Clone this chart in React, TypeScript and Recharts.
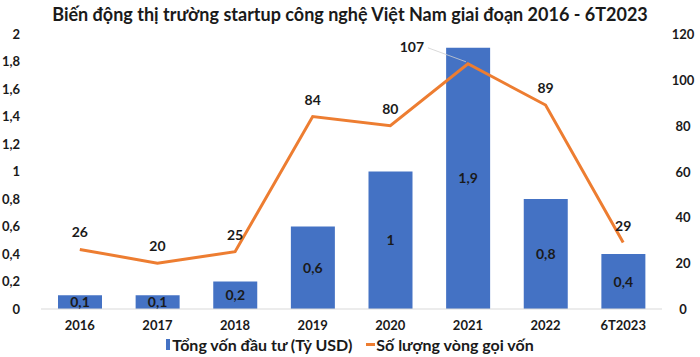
import React from 'react';
import {
  ComposedChart,
  Bar,
  Line,
  XAxis,
  YAxis,
  LabelList,
  Legend,
} from 'recharts';

const categories = ['2016', '2017', '2018', '2019', '2020', '2021', '2022', '6T2023'];
const investment = [0.1, 0.1, 0.2, 0.6, 1, 1.9, 0.8, 0.4];
const rounds = [26, 20, 25, 84, 80, 107, 89, 29];
const leftTicks = [0, 0.2, 0.4, 0.6, 0.8, 1, 1.2, 1.4, 1.6, 1.8, 2];
const rightTicks = [0, 20, 40, 60, 80, 100, 120];

const data = categories.map((year, i) => ({
  year,
  investment: investment[i],
  rounds: rounds[i],
}));

const FONT = 'Lato, "Open Sans", sans-serif';
const BLUE = '#4472C4';
const ORANGE = '#ED7D31';
const TEXT = '#1a1a1a';

const fmt = (v: number) => String(v).replace('.', ',');

const RightTick = (props: any) => {
  const { x, y, payload } = props;
  return (
    <text x={x} y={y} dy={5} textAnchor="middle" fontSize={13} fontWeight={700} fill={TEXT} fontFamily={FONT}>
      {payload.value}
    </text>
  );
};

const BarLabel = (props: any) => {
  const { x, y, width, height, value } = props;
  return (
    <text
      x={x + width / 2}
      y={y + height / 2}
      dy={5}
      textAnchor="middle"
      fontSize={14}
      fontWeight={700}
      fill={TEXT}
      fontFamily={FONT}
    >
      {fmt(value)}
    </text>
  );
};

const LineLabel = (props: any) => {
  const { x, y, value, index } = props;
  if (index === 5) {
    return (
      <g>
        <line x1={x - 40} y1={y - 16} x2={x - 2} y2={y - 2} stroke="#cfcfcf" strokeWidth={0.8} />
        <text x={x - 56} y={y - 12} textAnchor="middle" fontSize={14} fontWeight={700} fill={TEXT} fontFamily={FONT}>
          {value}
        </text>
      </g>
    );
  }
  return (
    <text x={x} y={y - 12} textAnchor="middle" fontSize={14} fontWeight={700} fill={TEXT} fontFamily={FONT}>
      {value}
    </text>
  );
};

const LegendContent = () => (
  <div style={{ display: 'flex', justifyContent: 'center', gap: 14, fontFamily: FONT, fontSize: 16, fontWeight: 700, color: TEXT }}>
    <span style={{ display: 'flex', alignItems: 'center' }}>
      <span style={{ display: 'inline-block', width: 4, height: 11, background: BLUE, marginRight: 2 }} />
      Tổng vốn đầu tư (Tỷ USD)
    </span>
    <span style={{ display: 'flex', alignItems: 'center' }}>
      <span style={{ display: 'inline-block', width: 9, height: 3, background: ORANGE, marginRight: 1 }} />
      Số lượng vòng gọi vốn
    </span>
  </div>
);

export default function App() {
  return (
    <div style={{ position: 'absolute', left: 0, top: 0, width: 700, height: 357, background: '#fff' }}>
      <div
        style={{
          position: 'absolute',
          top: 3,
          left: 0,
          width: 700,
          textAlign: 'center',
          fontFamily: FONT,
          fontSize: 18,
          fontWeight: 700,
          color: TEXT,
        }}
      >
        Biến động thị trường startup công nghệ Việt Nam giai đoạn 2016 - 6T2023
      </div>
      <ComposedChart
        width={700}
        height={357}
        data={data}
        margin={{ top: 34, right: 0, left: 0, bottom: 2 }}
      >
        <XAxis
          dataKey="year"
          tickLine={false}
          tickSize={0}
          tickMargin={12}
          axisLine={{ stroke: '#d9d9d9' }}
          height={26}
          tick={{ fontSize: 13, fontWeight: 700, fill: TEXT, fontFamily: FONT }}
        />
        <YAxis
          yAxisId="left"
          domain={[0, 2]}
          ticks={leftTicks}
          tickFormatter={fmt}
          axisLine={false}
          tickLine={false}
          tickSize={0}
          tickMargin={21}
          width={41}
          tick={{ fontSize: 13, fontWeight: 700, fill: TEXT, fontFamily: FONT }}
        />
        <YAxis
          yAxisId="right"
          orientation="right"
          domain={[0, 120]}
          ticks={rightTicks}
          axisLine={false}
          tickLine={false}
          tickSize={0}
          tickMargin={21}
          width={38}
          tick={<RightTick />}
        />
        <Legend verticalAlign="bottom" height={20} content={<LegendContent />} />
        <Bar yAxisId="left" dataKey="investment" fill={BLUE} barSize={44} isAnimationActive={false}>
          <LabelList dataKey="investment" content={<BarLabel />} />
        </Bar>
        <Line
          yAxisId="right"
          dataKey="rounds"
          stroke={ORANGE}
          strokeWidth={3}
          dot={false}
          type="linear"
          isAnimationActive={false}
        >
          <LabelList dataKey="rounds" content={<LineLabel />} />
        </Line>
      </ComposedChart>
    </div>
  );
}
